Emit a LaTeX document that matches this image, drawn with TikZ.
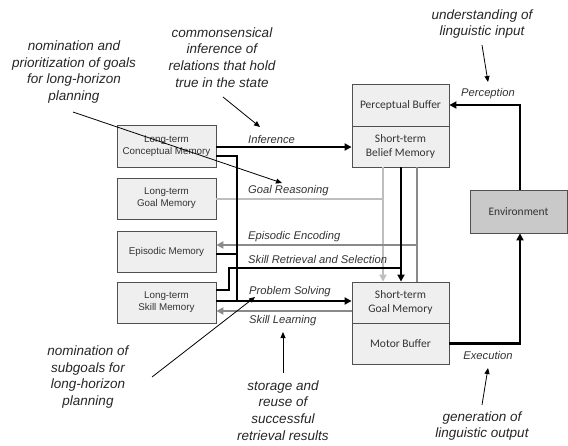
\documentclass[tikz,border=0pt]{standalone}
\usepackage{fontspec}
\setmainfont{Liberation Sans}
\newfontfamily\calib{Carlito}
\usetikzlibrary{arrows.meta,calc}
\definecolor{boxfill}{HTML}{EFEFEF}
\definecolor{envfill}{HTML}{C9C9C9}
\definecolor{boxline}{HTML}{505050}
\definecolor{txt}{HTML}{333333}
\definecolor{lgray}{HTML}{BEBEBE}
\definecolor{mgray}{HTML}{8A8A8A}
\begin{document}
\begin{tikzpicture}[x=1pt,y=-1pt,
  membox/.style={draw=boxline,line width=0.8pt,fill=boxfill,minimum width=99pt,minimum height=41pt,inner sep=0pt,align=center,text=txt,font=\fontsize{9.8}{12}\selectfont},
  stbox/.style={draw=boxline,line width=0.8pt,fill=boxfill,minimum width=97pt,minimum height=41pt,inner sep=0pt,align=center,text=txt,font=\calib\fontsize{11.5}{13.5}\selectfont},
  envbox/.style={stbox,fill=envfill,minimum height=43pt},
  thickflow/.style={line width=2.4pt,black},
  lflow/.style={line width=2pt,lgray},
  mflow/.style={line width=2pt,mgray},
  tip/.style={-{Triangle[length=7pt,width=7pt]}},
  flowlabel/.style={font=\fontsize{11.2}{13}\selectfont\itshape,text=txt,inner sep=0pt},
  note/.style={font=\fontsize{13.5}{16.8}\selectfont\itshape,text=black!85,align=center,inner sep=0pt},
  notearrow/.style={line width=0.8pt,black,-{Triangle[length=6pt,width=5pt]}}
]
\useasboundingbox (0,0) rectangle (568,445);

% memory boxes
\node[membox,minimum height=42pt] (LCM) at (166.5,146) {Long-term\\Conceptual Memory};
\node[membox] (LGM) at (166.5,198.5) {Long-term\\Goal Memory};
\node[membox] (EM) at (166.5,251.5) {Episodic Memory};
\node[membox] (LSM) at (166.5,302.5) {Long-term\\Skill Memory};

\node[stbox,minimum height=42pt] (PB) at (400.5,105) {Perceptual Buffer};
\node[stbox] (SBM) at (400.5,146.5) {Short-term\\Belief Memory};
\node[stbox] (SGM) at (400.5,302.5) {Short-term\\Goal Memory};
\node[stbox] (MB) at (400.5,343.5) {Motor Buffer};
\node[envbox] (ENV) at (518.5,211.5) {Environment};

% helper coordinates
\coordinate (inf) at ([yshift=-1pt]LCM.east);
\coordinate (cm2) at ([yshift=-10pt]LCM.east);
\coordinate (emo) at ([yshift=-2.5pt]EM.east);
\coordinate (emi) at ([yshift=6.5pt]EM.east);
\coordinate (srs) at ([yshift=12.5pt]LSM.east);
\coordinate (pss) at ([yshift=1.5pt]LSM.east);
\coordinate (skl) at ([yshift=-8.5pt]LSM.east);
\coordinate (gr) at ([yshift=-0.5pt]LGM.east);
\coordinate (bus) at (237,0);
\coordinate (jog) at (229,0);
\coordinate (srl) at (0,268);
\coordinate (lgx) at (383,0);
\coordinate (bkx) at (401,0);
\coordinate (mgx) at (417,0);
\coordinate (envx) at (520,0);

% gray flows (behind)
\draw[lflow] (lgx |- SBM.south) -- (lgx |- gr);
\draw[lflow,tip] (lgx |- SBM.south) -- (lgx |- SGM.north);
\draw[lflow] (gr) -- (lgx |- gr);
\draw[mflow] (mgx |- SBM.south) -- (mgx |- SGM.north);
\draw[mflow,tip] (mgx |- emi) -- (emi);
\draw[mflow,tip] (SGM.west |- skl) -- (skl);

% black flows
\draw[thickflow,tip] (inf) -- (inf -| SBM.west);
\draw[thickflow] (cm2) -- (bus |- cm2) -- (bus |- pss);
\draw[thickflow] (emo) -- (bus |- emo);
\draw[thickflow,tip] (pss) -- (pss -| SGM.west);
\draw[thickflow] (srs) -- (jog |- srs) -- (jog |- srl) -- (bkx |- srl);
\draw[thickflow,tip] (bkx |- SBM.south) -- (bkx |- SGM.north);
\draw[thickflow,tip] (envx |- ENV.north) |- (PB.east);
\draw[thickflow,tip] (MB.east) -| (envx |- ENV.south);

% flow labels
\node[flowlabel,anchor=west] (lInf) at (248,139) {Inference};
\node[flowlabel,anchor=west] (lGR) at (248,191) {Goal Reasoning};
\node[flowlabel,anchor=west] (lEE) at (248,237) {Episodic Encoding};
\node[flowlabel,anchor=west] (lSRS) at (248,259) {Skill Retrieval and Selection};
\node[flowlabel,anchor=west] (lPS) at (249,292) {Problem Solving};
\node[flowlabel,anchor=west] (lSL) at (249,321) {Skill Learning};
\node[flowlabel] (lPer) at (488,94) {Perception};
\node[flowlabel] (lExe) at (488,355) {Execution};

% annotations
\node[note] (n1) at (74,72) {nomination and\\prioritization of goals\\for long-horizon\\planning};
\node[note] (n2) at (222,57.5) {commonsensical\\inference of\\relations that hold\\true in the state};
\node[note] (n3) at (482,24) {understanding of\\linguistic input};
\node[note] (n4) at (88,377) {nomination of\\subgoals for\\long-horizon\\planning};
\node[note] (n5) at (283,410.5) {storage and\\reuse of\\successful\\retrieval results};
\node[note] (n6) at (482,426) {generation of\\linguistic output};

\coordinate (a1s) at (73,112);  \coordinate (a1e) at (282,183);
\coordinate (a2s) at (223,97);  \coordinate (a2e) at (260,127);
\coordinate (a3s) at (482,45);  \coordinate (a3e) at (488,82);
\coordinate (a4s) at (152,377); \coordinate (a4e) at (255,297);
\coordinate (a5s) at (283,373); \coordinate (a5e) at (283,332);
\coordinate (a6s) at (482,405); \coordinate (a6e) at (488,368);
\draw[notearrow] (a1s) -- (a1e);
\draw[notearrow] (a2s) -- (a2e);
\draw[notearrow] (a3s) -- (a3e);
\draw[notearrow] (a4s) -- (a4e);
\draw[notearrow] (a5s) -- (a5e);
\draw[notearrow] (a6s) -- (a6e);
\end{tikzpicture}
\end{document}
